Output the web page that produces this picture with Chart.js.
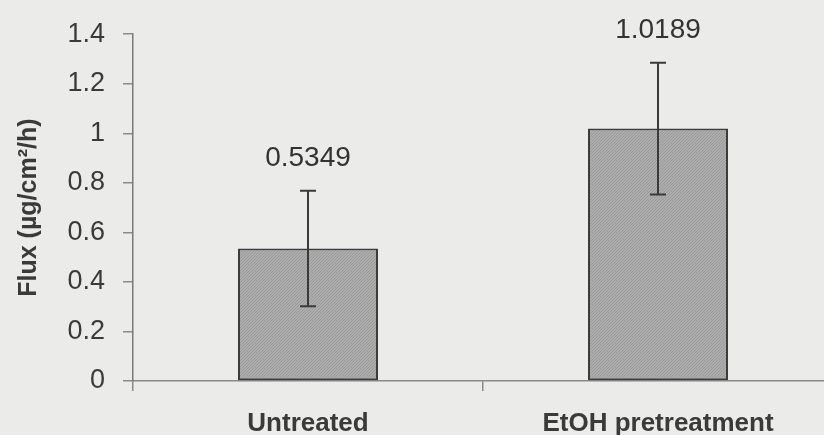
<!DOCTYPE html>
<html>
<head>
<meta charset="utf-8">
<script src="https://cdn.jsdelivr.net/npm/chart.js@4"></script>
<style>
    body { margin: 0; background: #ebebe9; }
    .wrap { width: 824px; height: 435px; overflow: hidden; }
</style>
</head>
<body>
<div class="wrap">
    <canvas id="fluxChart" width="840" height="435" style="width:840px;height:435px;"></canvas>
</div>
<script>
const categories = ['Untreated', 'EtOH pretreatment'];
const fluxValues = [0.5349, 1.0189];
const fluxErrors = [0.233, 0.266];
const yTicks = [0, 0.2, 0.4, 0.6, 0.8, 1, 1.2, 1.4];

// stippled grey like the printed bars
const makeBarPattern = () => {
    const c = document.createElement('canvas');
    c.width = 3; c.height = 3;
    const g = c.getContext('2d');
    g.fillStyle = '#adadad';
    g.fillRect(0, 0, 3, 3);
    g.fillStyle = '#9a9a9a';
    g.fillRect(0, 0, 1, 1);
    g.fillRect(2, 1, 1, 1);
    g.fillRect(1, 2, 1, 1);
    return g.createPattern(c, 'repeat');
};

// error bars plus the value written above each one
const errorBarPlugin = {
    id: 'errorBars',
    afterDatasetsDraw(chart) {
        const ctx = chart.ctx;
        const y = chart.scales.y;
        const meta = chart.getDatasetMeta(0);
        ctx.save();
        meta.data.forEach((bar, i) => {
            const top = y.getPixelForValue(fluxValues[i] + fluxErrors[i]);
            const bottom = y.getPixelForValue(fluxValues[i] - fluxErrors[i]);
            ctx.strokeStyle = '#3a3a3a';
            ctx.lineWidth = 2;
            ctx.beginPath();
            ctx.moveTo(bar.x, top);
            ctx.lineTo(bar.x, bottom);
            ctx.moveTo(bar.x - 8, top);
            ctx.lineTo(bar.x + 8, top);
            ctx.moveTo(bar.x - 8, bottom);
            ctx.lineTo(bar.x + 8, bottom);
            ctx.stroke();

            ctx.fillStyle = '#333333';
            ctx.font = '28px "Liberation Sans", Arial, sans-serif';
            ctx.textAlign = 'center';
            ctx.textBaseline = 'alphabetic';
            ctx.fillText(fluxValues[i].toFixed(4), bar.x, top - 25);
        });
        ctx.restore();
    }
};

const ctx = document.getElementById('fluxChart').getContext('2d');
new Chart(ctx, {
    type: 'bar',
    data: {
        labels: categories,
        datasets: [{
            data: fluxValues,
            backgroundColor: makeBarPattern(),
            borderColor: '#3c3c3c',
            borderWidth: 2,
            borderSkipped: false,
            barPercentage: 0.4,
            categoryPercentage: 1
        }]
    },
    options: {
        responsive: false,
        animation: false,
        layout: { padding: { top: 33, right: 7, left: 0, bottom: 0 } },
        plugins: {
            legend: { display: false },
            tooltip: { enabled: false }
        },
        scales: {
            x: {
                grid: { drawOnChartArea: false, tickLength: 10, color: '#8a8a8a', lineWidth: 1.5 },
                border: { color: '#8a8a8a', width: 1.5 },
                ticks: {
                    color: '#3a3a3a',
                    padding: 17,
                    font: { family: '"Liberation Sans", Arial, sans-serif', size: 26, weight: 'bold' }
                },
                afterFit(scale) { scale.height = 54; }
            },
            y: {
                min: 0,
                max: 1.4,
                afterBuildTicks(scale) { scale.ticks = yTicks.map(v => ({ value: v })); },
                grid: { drawOnChartArea: false, tickLength: 10, color: '#8a8a8a', lineWidth: 1.5 },
                border: { color: '#7a7a7a', width: 1.5 },
                ticks: {
                    color: '#3a3a3a',
                    padding: 18,
                    callback: v => String(v),
                    font: { family: '"Liberation Sans", Arial, sans-serif', size: 27 }
                },
                title: {
                    display: true,
                    text: 'Flux (µg/cm²/h)',
                    color: '#3a3a3a',
                    padding: { top: 14, bottom: 0 },
                    font: { family: '"Liberation Sans", Arial, sans-serif', size: 25, weight: 'bold' }
                },
                afterFit(scale) { scale.width = 133; }
            }
        }
    },
    plugins: [errorBarPlugin]
});
</script>
</body>
</html>
